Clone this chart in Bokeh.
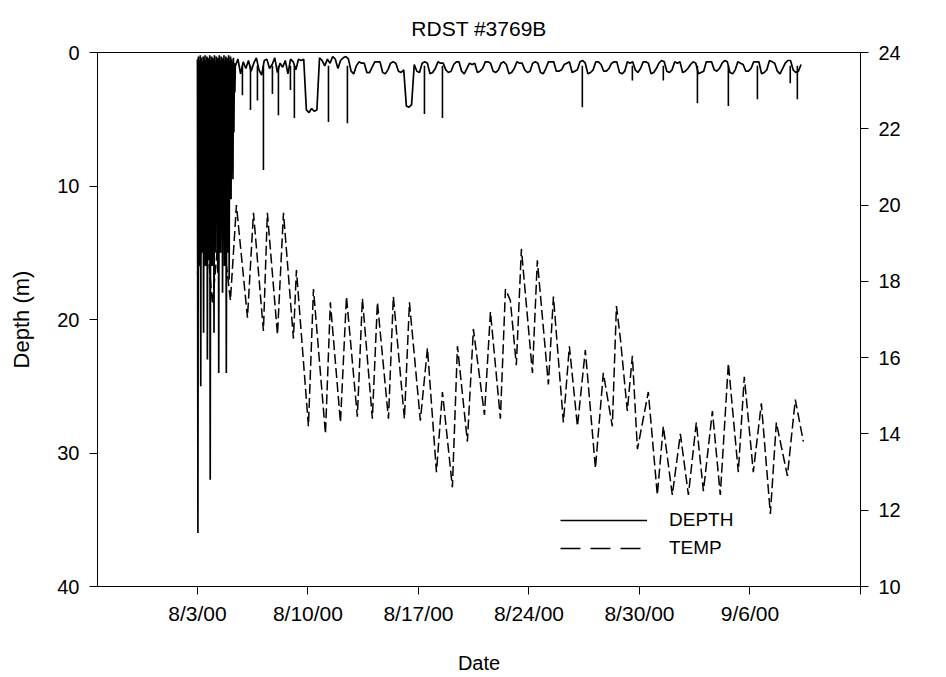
import numpy as np
from math import pi
from bokeh.plotting import figure
from bokeh.models import Range1d, LinearAxis, FixedTicker, Legend, LegendItem, Label
from bokeh.embed import file_html
from bokeh.resources import INLINE

FONT = "Liberation Sans"

title_text = "RDST #3769B"
date_ticks = [0, 7, 14, 21, 28, 35, 42]
date_labels = ["8/3/00", "8/10/00", "8/17/00", "8/24/00", "8/30/00", "9/6/00", ""]
depth_ticks = [0, 10, 20, 30, 40]
temp_ticks = [10, 12, 14, 16, 18, 20, 22, 24]

# depth logger: first days (dense diving), sampled every 0.03 day from 8/3
burst_start = 0.0
burst_step = 0.03
burst_depth = [
    0.5, 36.0, 0.3, 14.0, 0.6, 16.0, 0.2, 25.0, 0.4, 13.0,
    0.7, 15.0, 0.3, 21.0, 0.5, 12.0, 0.2, 16.0, 0.6, 14.0,
    0.3, 23.0, 0.4, 13.0, 0.5, 15.5, 0.2, 32.0, 0.6, 12.5,
    0.3, 16.0, 0.4, 14.0, 0.5, 21.0, 0.2, 13.0, 0.7, 15.0,
    0.3, 12.0, 0.5, 16.5, 0.4, 24.0, 0.2, 13.5, 0.6, 15.0,
    0.3, 12.0, 0.4, 18.0, 0.5, 14.0, 0.2, 16.0, 0.6, 13.0,
    0.3, 24.0, 0.5, 12.5, 0.4, 15.0, 0.2, 17.0, 0.6, 10.0,
    0.3, 11.0, 0.5, 9.0, 0.7, 9.5, 0.4, 6.0, 0.8, 3.0,
]

# depth after that, sampled every 4 hours (one row = one day)
base_start = 2.4
base_step = 1.0 / 6.0
base_depth = [
    1.0, 0.5, 1.6, 0.7, 1.2, 0.6,
    1.4, 0.8, 0.4, 1.3, 1.7, 0.6,
    0.5, 1.2, 0.9, 0.4, 1.5, 0.8,
    1.1, 0.6, 1.6, 0.5, 0.7, 1.3,
    0.5, 0.6, 0.5, 4.3, 4.5, 4.2,
    4.4, 4.3, 0.4, 0.6, 1.0, 0.5,
    0.8, 0.3, 0.5, 1.2, 0.6, 0.4,
    0.3, 0.5, 1.4, 1.6, 1.0, 0.7,
    0.8, 0.8, 1.5, 1.5, 1.1, 0.7,
    0.7, 0.7, 1.5, 1.6, 1.3, 0.8,
    0.7, 0.8, 1.4, 1.5, 1.3, 4.0,
    4.1, 3.9, 0.9, 1.4, 1.5, 0.8,
    0.7, 0.8, 1.6, 1.5, 1.2, 0.7,
    0.8, 0.8, 1.3, 1.5, 1.4, 0.9,
    0.7, 0.7, 1.4, 1.6, 1.2, 0.8,
    0.9, 0.8, 1.5, 1.4, 1.2, 0.7,
    0.7, 0.8, 1.4, 1.5, 1.3, 0.8,
    0.7, 0.9, 1.6, 1.5, 1.2, 0.7,
    0.8, 0.8, 1.3, 1.5, 1.4, 0.8,
    0.7, 0.8, 1.5, 1.6, 1.2, 0.7,
    0.7, 0.7, 1.4, 1.4, 1.3, 0.9,
    0.8, 0.7, 1.5, 1.4, 1.3, 0.7,
    0.6, 0.8, 1.6, 1.5, 1.3, 0.7,
    0.7, 0.9, 1.4, 1.4, 1.2, 0.8,
    0.7, 0.7, 1.5, 1.6, 1.4, 0.7,
    0.8, 0.7, 1.3, 1.5, 1.2, 0.7,
    0.7, 0.8, 1.6, 1.5, 1.2, 0.8,
    0.6, 0.7, 1.4, 1.5, 1.3, 0.7,
    0.8, 0.7, 1.5, 1.4, 1.2, 0.9,
    0.7, 0.8, 1.6, 1.5, 1.4, 0.7,
    0.7, 0.7, 1.3, 1.4, 1.2, 0.8,
    0.6, 0.7, 1.5, 1.6, 1.3, 0.7,
    0.8, 0.9, 1.4, 1.4, 1.2, 0.7,
    0.7, 0.7, 1.6, 1.5, 1.3, 0.6,
    0.7, 0.8, 1.4, 1.6, 1.2, 0.8,
    0.6, 0.6, 1.3, 1.5, 1.4, 0.9,
]

# short dives (days since 8/3, depth m)
spike_day = [2.85, 3.36, 3.80, 4.18, 4.75, 5.13, 5.89, 6.14, 8.30, 9.50,
             14.38, 15.52, 24.38, 27.55, 29.51, 31.67, 33.63, 35.47, 37.55, 38.00]
spike_depth = [3.2, 4.3, 3.6, 8.8, 3.1, 4.7, 2.8, 4.9, 5.2, 5.3,
               4.6, 4.9, 4.1, 2.1, 2.1, 3.8, 4.0, 3.5, 2.3, 3.5]
spike_from = 1.0

# temperature (days since 8/3, deg C)
temp_day = [0.00, 0.51, 0.95, 1.46, 2.09, 2.47, 3.17, 3.55, 4.18, 4.43,
            5.07, 5.45, 6.08, 6.27, 7.03, 7.35, 8.11, 8.42, 9.06, 9.44,
            10.13, 10.45, 11.08, 11.40, 12.10, 12.41, 13.11, 13.43, 14.12, 14.57,
            15.14, 15.52, 16.15, 16.47, 17.10, 17.48, 18.18, 18.56, 19.19, 19.51,
            19.82, 20.20, 20.52, 21.22, 21.53, 22.23, 22.55, 23.18, 23.56, 24.07,
            24.57, 25.21, 25.71, 26.28, 26.54, 26.79, 27.23, 27.55, 27.87, 28.56,
            29.13, 29.51, 30.08, 30.59, 31.10, 31.60, 32.05, 32.62, 33.12, 33.63,
            34.26, 34.64, 35.21, 35.72, 36.29, 36.67, 37.37, 37.87, 38.38]
temp_val = [18.2, 19.6, 17.4, 19.8, 17.5, 20.0, 17.05, 19.8, 16.7, 19.8,
            16.6, 19.8, 16.5, 18.3, 14.2, 17.8, 14.0, 17.45, 14.3, 17.6,
            14.45, 17.55, 14.4, 17.45, 14.4, 17.6, 14.4, 17.45, 14.35, 16.25,
            13.0, 15.1, 12.6, 16.3, 13.8, 16.75, 14.5, 17.2, 14.4, 17.8,
            17.5, 15.8, 18.85, 15.6, 18.55, 15.3, 17.6, 14.3, 16.3, 14.2,
            16.2, 13.1, 15.6, 14.2, 17.35, 16.5, 14.6, 16.05, 13.6, 15.1,
            12.4, 14.2, 12.4, 14.0, 12.4, 14.3, 12.5, 14.6, 12.4, 15.85,
            13.0, 15.5, 13.0, 14.8, 11.9, 14.3, 12.9, 14.9, 13.8]

series_names = ["DEPTH", "TEMP"]

x_start, x_end = -6.33, 42.0
depth_range = (40, 0)
temp_range = (10, 24)

# ---------------------------------------------------------------
burst_x = burst_start + burst_step * np.arange(len(burst_depth))
base_x = base_start + base_step * np.arange(len(base_depth))
depth_x = np.concatenate([burst_x, base_x])
depth_y = np.concatenate([np.array(burst_depth), np.array(base_depth)])

p = figure(width=946, height=677, output_backend="svg", toolbar_location=None,
           x_range=Range1d(x_start, x_end), y_range=Range1d(*depth_range),
           min_border_left=97, min_border_right=86, min_border_top=52,
           min_border_bottom=91)
p.extra_y_ranges = {"temp": Range1d(*temp_range)}

p.title.text = title_text
p.title.align = "center"
p.title.vertical_align = "top"
p.title.text_font = FONT
p.title.text_font_size = "21px"
p.title.text_font_style = "normal"
p.title.text_color = "black"
p.title.standoff = 22

p.xgrid.visible = False
p.ygrid.visible = False
p.outline_line_color = "black"
p.outline_line_alpha = 1.0
p.outline_line_width = 1
p.background_fill_color = "white"
p.border_fill_color = "white"

def style_axis(ax, size="20px"):
    ax.axis_line_color = "black"
    ax.major_tick_line_color = "black"
    ax.major_tick_out = 8
    ax.major_tick_in = 0
    ax.minor_tick_line_color = None
    ax.major_label_text_font = FONT
    ax.major_label_text_font_size = size
    ax.major_label_text_color = "black"
    ax.axis_label_text_font = FONT
    ax.axis_label_text_font_style = "normal"
    ax.axis_label_text_color = "black"

xa = p.xaxis[0]
style_axis(xa, "21px")
xa.ticker = FixedTicker(ticks=date_ticks, minor_ticks=[])
xa.major_label_overrides = {t: l for t, l in zip(date_ticks, date_labels)}
xa.major_label_standoff = 7
xa.axis_label = "Date"
xa.axis_label_text_font_size = "20px"
xa.axis_label_standoff = 24

ya = p.yaxis[0]
style_axis(ya)
ya.ticker = FixedTicker(ticks=depth_ticks, minor_ticks=[])
ya.major_label_standoff = 10
ya.axis_label = "Depth (m)"
ya.axis_label_text_font_size = "22px"
ya.axis_label_standoff = 20

ra = LinearAxis(y_range_name="temp")
style_axis(ra)
ra.ticker = FixedTicker(ticks=temp_ticks, minor_ticks=[])
ra.major_label_standoff = 10
p.add_layout(ra, "right")

p.add_layout(Label(x=x_end, y=sum(depth_range) / 2, x_offset=75, text="Temp (C)",
                   angle=pi / 2, text_align="center", text_baseline="middle",
                   text_font=FONT, text_font_size="20px", text_color="black"))

p.line(depth_x, depth_y, line_color="black", line_width=1.7)
p.segment(x0=spike_day, y0=[spike_from] * len(spike_day), x1=spike_day, y1=spike_depth,
          line_color="black", line_width=1.6)
p.line(temp_day, temp_val, y_range_name="temp", line_color="black",
       line_width=1.5, line_dash="10 4")

# legend keys (no data points of their own)
leg_d = p.line(x=[np.nan], y=[np.nan], line_color="black", line_width=1.3)
leg_t = p.line(x=[np.nan], y=[np.nan], line_color="black", line_width=1.3,
               line_dash="20 10")
legend = Legend(items=[LegendItem(label=series_names[0], renderers=[leg_d]),
                       LegendItem(label=series_names[1], renderers=[leg_t])],
                location=(463, 27), glyph_width=87, glyph_height=20,
                label_height=20, spacing=6, padding=0, margin=0,
                label_standoff=22, border_line_alpha=0, background_fill_alpha=0,
                label_text_font=FONT, label_text_font_size="19px",
                label_text_color="black")
p.add_layout(legend)

open("out.html", "w").write(file_html(p, INLINE))
